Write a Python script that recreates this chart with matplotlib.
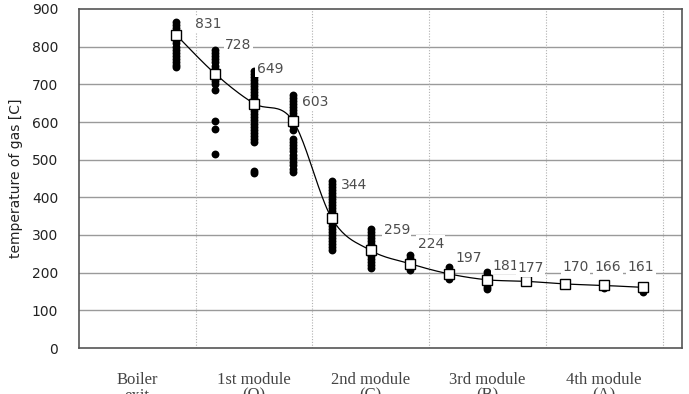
import numpy as np
import matplotlib
matplotlib.use("Agg")
from matplotlib import pyplot as plt

# mean gas temperature at each measuring point
means = [831, 728, 649, 603, 344, 259, 224, 197, 181, 177, 170, 166, 161]

# individual measurements at each point
meas = [
    [865, 858, 850, 842, 835, 826, 818, 810, 800, 792, 784, 776, 768, 760, 752, 745],
    [790, 782, 774, 766, 758, 750, 742, 735, 726, 718, 710, 700, 686, 602, 582, 516],
    [736, 728, 720, 712, 704, 696, 688, 680, 672, 664, 655, 645, 636, 628, 620, 612,
     604, 596, 588, 580, 572, 564, 556, 546, 470, 464],
    [672, 664, 656, 648, 640, 632, 624, 616, 608, 598, 590, 580, 556, 548, 540, 530,
     522, 512, 504, 494, 486, 476, 468],
    [444, 436, 428, 420, 412, 404, 396, 388, 380, 372, 364, 356, 348, 340, 332, 324,
     316, 308, 300, 292, 284, 276, 268, 260],
    [316, 308, 300, 292, 284, 276, 268, 260, 252, 244, 236, 228, 220, 212],
    [248, 240, 232, 224, 216, 208],
    [214, 206, 198, 190, 182],
    [202, 194, 186, 178, 170, 162, 156],
    [180, 174],
    [172, 168],
    [166, 160],
    [163, 155, 150],
]

categories = ["Boiler\nexit", "1st module\n(O)", "2nd module\n(C)", "3rd module\n(B)", "4th module\n(A)"]

# label offsets in pixels (dx, dy) from each square
label_off = [(32, 11), (23, 29), (16, 35), (22, 19), (22, 33), (26, 20), (21, 20),
             (20, 16), (18, 14), (4, 13), (10, 17), (4, 18), (-2, 20)]


def smooth(x, y, n=24):
    # bezier smoothing like a spreadsheet "smoothed line"
    x = np.asarray(x, float)
    y = np.asarray(y, float)
    px = np.concatenate([[x[0]], x, [x[-1]]])
    py = np.concatenate([[y[0]], y, [y[-1]]])
    xs, ys = [], []
    t = np.linspace(0, 1, n)
    for i in range(1, len(px) - 2):
        x0, x1, x2, x3 = px[i - 1:i + 3]
        y0, y1, y2, y3 = py[i - 1:i + 3]
        bx = [x1, x1 + (x2 - x0) / 6, x2 - (x3 - x1) / 6, x2]
        by = [y1, y1 + (y2 - y0) / 6, y2 - (y3 - y1) / 6, y2]
        b = [(1 - t) ** 3, 3 * (1 - t) ** 2 * t, 3 * (1 - t) * t ** 2, t ** 3]
        xs.append(sum(bi * c for bi, c in zip(b, bx)))
        ys.append(sum(bi * c for bi, c in zip(b, by)))
    return np.concatenate(xs), np.concatenate(ys)


fig = plt.figure(figsize=(6.89, 3.94), dpi=100)
ax = fig.add_axes([79 / 689, 1 - 348 / 394, 603 / 689, 339 / 394])

pos = np.arange(len(means))

# grid
for yv in range(100, 900, 100):
    ax.axhline(yv, color="#9a9a9a", lw=1.0, zorder=0)
for xv in [0.5, 3.5, 6.5, 9.5, 12.5]:
    ax.axvline(xv, color="#b0b0b0", lw=0.8, ls=(0, (1, 1.5)), zorder=0)

# measurements
for i, vals in enumerate(meas):
    ax.scatter([pos[i]] * len(vals), vals, s=32, color="black", zorder=2, linewidths=0)

# smoothed mean line
sx, sy = smooth(pos, means)
ax.plot(sx, sy, color="black", lw=0.9, zorder=3)
ax.plot(pos, means, ls="none", marker="s", ms=7.5, mfc="white", mec="black", mew=1.0, zorder=4)

for i, m in enumerate(means):
    ax.annotate(str(m), (pos[i], m), xytext=label_off[i], textcoords="offset pixels",
                ha="center", va="center", fontsize=10, color="#4d4d4d",
                family="Liberation Sans Narrow",
                bbox=dict(boxstyle="square,pad=0.1", fc="white", ec="none"), zorder=5)

ax.set_xlim(-2.5, 13.0)
ax.set_ylim(0, 900)
ax.set_yticks(range(0, 901, 100))
ax.tick_params(axis="y", length=0, pad=15, labelsize=10, labelcolor="#222222")

ax.set_xticks([-1, 2, 5, 8, 11])
ax.set_xticklabels(categories, family="Liberation Serif", fontsize=12, color="#444444",
                   linespacing=1.0)
ax.tick_params(axis="x", length=0, pad=17)

ax.set_ylabel("temperature of gas [C]", fontsize=10, color="#222222", labelpad=6)

for s in ax.spines.values():
    s.set_color("#555555")
    s.set_linewidth(1.2)

fig.savefig("out.png", dpi=100)
